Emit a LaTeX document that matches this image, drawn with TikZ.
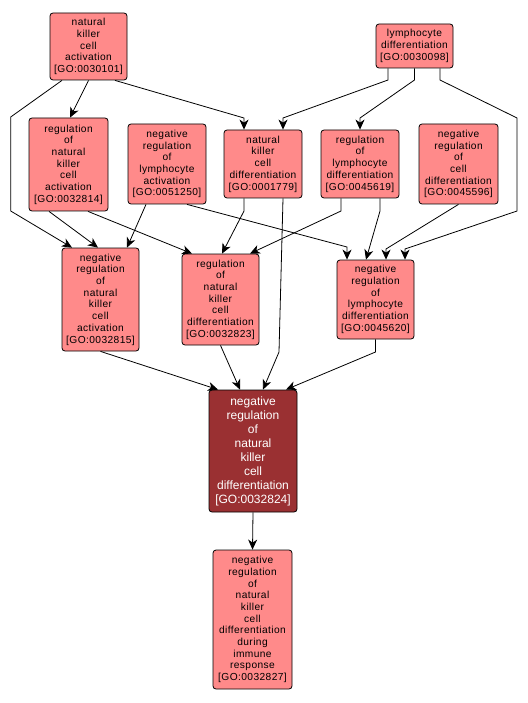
\documentclass[tikz,border=0pt]{standalone}
\usepackage{fontspec}
\setmainfont{Liberation Sans}
\newfontfamily\gofont[LetterSpace=4]{Liberation Sans}
\usetikzlibrary{arrows.meta}
\definecolor{lightgo}{HTML}{FF8A8A}
\definecolor{darkgo}{HTML}{9A3032}
\tikzset{
  gobox/.style={draw=black, line width=0.8pt, rounded corners=3pt, fill=lightgo, inner sep=0pt, align=center,
    font=\gofont\fontsize{10.2}{11.7}\selectfont, text=black},
  mainbox/.style={gobox, fill=darkgo, text=white, font=\fontsize{12}{14}\selectfont},
  arr/.style={draw=black, line width=0.8pt, -{Stealth[length=10pt,width=9pt,inset=3pt]}}
}
\begin{document}
\begin{tikzpicture}[x=1pt,y=-1pt]
\useasboundingbox[fill=white] (0,0) rectangle (527,703);
\node[gobox, minimum width=77pt, minimum height=67pt] (A) at (88.5,46.5) {natural\\killer\\cell\\activation\\{[GO:0030101]}};
\node[gobox, minimum width=77pt, minimum height=44pt] (B) at (414.5,46) {lymphocyte\\differentiation\\{[GO:0030098]}};
\node[gobox, minimum width=79pt, minimum height=93pt] (C) at (68.5,164.5) {regulation\\of\\natural\\killer\\cell\\activation\\{[GO:0032814]}};
\node[gobox, minimum width=78pt, minimum height=80pt] (D) at (167,164) {negative\\regulation\\of\\lymphocyte\\activation\\{[GO:0051250]}};
\node[gobox, minimum width=78pt, minimum height=68pt] (E) at (263,164) {natural\\killer\\cell\\differentiation\\{[GO:0001779]}};
\node[gobox, minimum width=78pt, minimum height=68pt] (F) at (360,164) {regulation\\of\\lymphocyte\\differentiation\\{[GO:0045619]}};
\node[gobox, minimum width=79pt, minimum height=80pt] (G) at (458.5,164) {negative\\regulation\\of\\cell\\differentiation\\{[GO:0045596]}};
\node[gobox, minimum width=77pt, minimum height=103pt] (H) at (100.5,299.5) {negative\\regulation\\of\\natural\\killer\\cell\\activation\\{[GO:0032815]}};
\node[gobox, minimum width=77pt, minimum height=91pt] (I) at (220.5,299.5) {regulation\\of\\natural\\killer\\cell\\differentiation\\{[GO:0032823]}};
\node[gobox, minimum width=77pt, minimum height=79pt] (J) at (375.5,299.5) {negative\\regulation\\of\\lymphocyte\\differentiation\\{[GO:0045620]}};
\node[mainbox, minimum width=88pt, minimum height=122pt] (K) at (253,451) {negative\\regulation\\of\\natural\\killer\\cell\\differentiation\\{[GO:0032824]}};
\node[gobox, minimum width=79pt, minimum height=139pt] (L) at (252.5,619.5) {negative\\regulation\\of\\natural\\killer\\cell\\differentiation\\during\\immune\\response\\{[GO:0032827]}};
% edges
\draw[arr] ([xshift=-26.5pt]A.south) -- (10.7,117) -- (10.7,211) -- ([xshift=-28.5pt]H.north);
\draw[arr] (A.south) -- ([xshift=1.5pt]C.north);
\draw[arr] ([xshift=26.5pt]A.south) -- (244,118) -- ([xshift=-19pt]E.north);
\draw[arr] ([xshift=-19.5pt]C.south) -- ([xshift=-2.5pt]H.north);
\draw[arr] ([xshift=19.5pt]C.south) -- ([xshift=-28.5pt]I.north);
\draw[arr] ([xshift=-21pt]D.south) -- ([xshift=26.5pt]H.north);
\draw[arr] ([xshift=20pt]D.south) -- (347,247) -- ([xshift=-28.5pt]J.north);
\draw[arr] ([xshift=-19pt]E.south) -- (244,211) -- ([xshift=1.5pt]I.north);
\draw[arr] ([xshift=20pt]E.south) -- (279,352) -- ([xshift=10pt]K.north);
\draw[arr] ([xshift=-19pt]F.south) -- (341,211) -- ([xshift=29.5pt]I.north);
\draw[arr] ([xshift=20pt]F.south) -- (380,211) -- ([xshift=-9.5pt]J.north);
\draw[arr] (G.south) -- (386,249) -- ([xshift=10.5pt]J.north);
\draw[arr] ([xshift=-26.5pt]B.south) -- (388,80) -- (283,118) -- ([xshift=20pt]E.north);
\draw[arr] (B.south) -- (414.5,80) -- (360,118) -- (F.north);
\draw[arr] ([xshift=25.5pt]B.south) -- (440,80) -- (517,118) -- (517,211) -- (405,249) -- ([xshift=29.5pt]J.north);
\draw[arr] (H.south) -- ([xshift=-35pt]K.north);
\draw[arr] (I.south) -- ([xshift=-13pt]K.north);
\draw[arr] (J.south) -- (375.5,352) -- ([xshift=33pt]K.north);
\draw[arr] (K.south) -- (L.north);
\end{tikzpicture}
\end{document}
